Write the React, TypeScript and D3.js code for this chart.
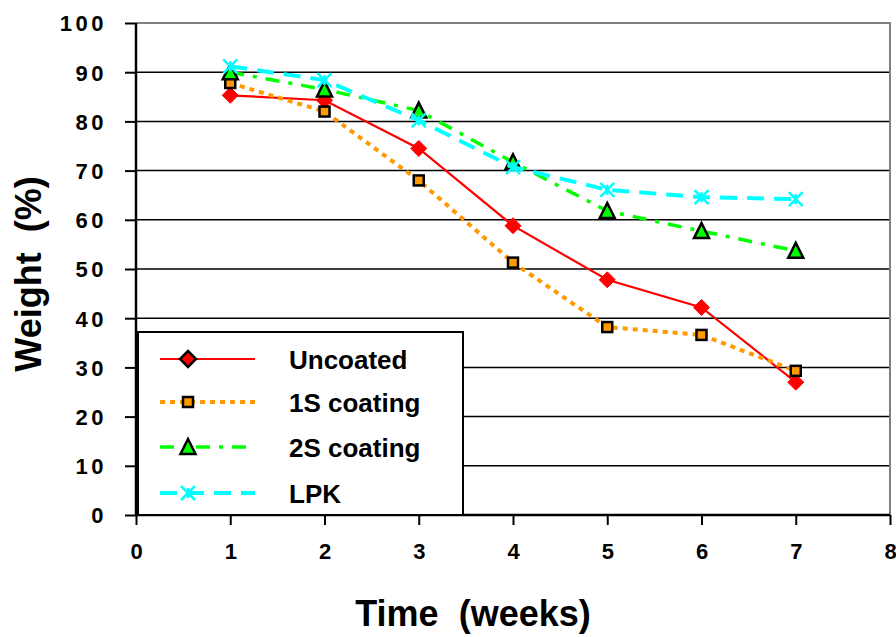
import * as d3 from "d3";
import { useEffect, useRef } from "react";

const weeks = [1, 2, 3, 4, 5, 6, 7];
const uncoated = [85.3, 84.3, 74.5, 58.8, 47.8, 42.2, 27.0];
const coating1S = [87.8, 82.0, 68.0, 51.3, 38.2, 36.6, 29.3];
const coating2S = [90.0, 86.5, 82.2, 71.7, 61.8, 57.7, 53.7];
const lpk = [91.2, 88.4, 80.2, 70.7, 66.1, 64.6, 64.2];
const seriesNames = ["Uncoated", "1S coating", "2S coating", "LPK"];
const xTicks = [0, 1, 2, 3, 4, 5, 6, 7, 8];
const yTicks = [0, 10, 20, 30, 40, 50, 60, 70, 80, 90, 100];

const width = 896,
  height = 637,
  marginTop = 23,
  marginRight = 6,
  marginBottom = 122,
  marginLeft = 136;

const font = "'Liberation Sans', Arial, sans-serif";

type Marker = "diamond" | "square" | "triangle" | "cross";
const styles: {
  color: string;
  width: number;
  dash: string | null;
  marker: Marker;
}[] = [
  { color: "#ff0000", width: 2.2, dash: null, marker: "diamond" },
  { color: "#ff9900", width: 4, dash: "5,5", marker: "square" },
  { color: "#00ff00", width: 3.5, dash: "14,9,4,9", marker: "triangle" },
  { color: "#00ffff", width: 4, dash: "17,10", marker: "cross" },
];

function drawMarker(
  g: d3.Selection<SVGGElement, unknown, null, undefined>,
  kind: Marker,
  cx: number,
  cy: number,
  color: string,
  legend = false
) {
  if (kind === "diamond") {
    g.append("path")
      .attr("d", `M${cx},${cy - 8}L${cx + 8},${cy}L${cx},${cy + 8}L${cx - 8},${cy}Z`)
      .attr("fill", color)
      .attr("stroke", legend ? "#000" : color)
      .attr("stroke-width", legend ? 2.5 : 1);
  } else if (kind === "square") {
    g.append("rect")
      .attr("x", cx - 5)
      .attr("y", cy - 5)
      .attr("width", 10)
      .attr("height", 10)
      .attr("fill", color)
      .attr("stroke", "#000")
      .attr("stroke-width", 2.5);
  } else if (kind === "triangle") {
    g.append("path")
      .attr("d", `M${cx},${cy - 8}L${cx + 7.5},${cy + 7}L${cx - 7.5},${cy + 7}Z`)
      .attr("fill", color)
      .attr("stroke", "#000")
      .attr("stroke-width", 2.5);
  } else {
    g.append("path")
      .attr(
        "d",
        `M${cx - 7},${cy - 7}L${cx + 7},${cy + 7}M${cx - 7},${cy + 7}L${cx + 7},${cy - 7}M${cx},${cy - 5}L${cx},${cy + 5}`
      )
      .attr("fill", "none")
      .attr("stroke", color)
      .attr("stroke-width", 2.5);
  }
}

export default function App() {
  const ref = useRef<SVGSVGElement | null>(null);

  useEffect(() => {
    if (!ref.current) return;
    const svg = d3.select(ref.current);
    svg.selectAll("*").remove();

    const x = d3.scaleLinear([0, 8], [marginLeft, width - marginRight]);
    const y = d3.scaleLinear([0, 100], [height - marginBottom, marginTop]);

    // gridlines
    svg
      .append("g")
      .selectAll("line")
      .data(yTicks.filter((t) => t > 0 && t < 100))
      .join("line")
      .attr("x1", x(0))
      .attr("x2", x(8))
      .attr("y1", (d) => y(d))
      .attr("y2", (d) => y(d))
      .attr("stroke", "#000")
      .attr("stroke-width", 1.5);

    // plot border top/right in gray
    svg
      .append("path")
      .attr("d", `M${x(0)},${y(100)}H${x(8)}V${y(0)}`)
      .attr("fill", "none")
      .attr("stroke", "#808080")
      .attr("stroke-width", 2);

    // y axis
    svg
      .append("g")
      .attr("transform", `translate(${x(0)},0)`)
      .call(d3.axisLeft(y).tickValues(yTicks).tickSize(11).tickPadding(12).tickFormat(d3.format("d")))
      .call((g) => g.selectAll("line").attr("stroke-width", 2))
      .call((g) => g.select(".domain").attr("stroke-width", 2.5).attr("d", `M0,${y(0)}V${y(100)}`))
      .call((g) =>
        g
          .selectAll("text")
          .attr("font-family", font)
          .attr("font-weight", "bold")
          .attr("font-size", 22)
          .attr("letter-spacing", 3.5)
          .attr("x", -29)
          .attr("dy", "0.36em")
          .attr("fill", "#000")
      );

    // x axis
    svg
      .append("g")
      .attr("transform", `translate(0,${y(0)})`)
      .call(d3.axisBottom(x).tickValues(xTicks).tickSize(10).tickPadding(18).tickFormat(d3.format("d")))
      .call((g) => g.selectAll("line").attr("stroke-width", 2))
      .call((g) => g.select(".domain").attr("stroke-width", 2.5).attr("d", `M${x(0)},0H${x(8)}`))
      .call((g) =>
        g
          .selectAll("text")
          .attr("font-family", font)
          .attr("font-weight", "bold")
          .attr("font-size", 22)
          .attr("fill", "#000")
      );

    // series
    const all = [uncoated, coating1S, coating2S, lpk];
    const line = d3
      .line<number>()
      .x((_, i) => x(weeks[i]))
      .y((d) => y(d));

    all.forEach((vals, si) => {
      const s = styles[si];
      const g = svg.append("g");
      g.append("path")
        .attr("d", line(vals))
        .attr("fill", "none")
        .attr("stroke", s.color)
        .attr("stroke-width", s.width)
        .attr("stroke-dasharray", s.dash);
      vals.forEach((v, i) => drawMarker(g, s.marker, x(weeks[i]), y(v), s.color));
    });

    // legend
    const lg = svg.append("g");
    lg.append("rect")
      .attr("x", 138)
      .attr("y", 332)
      .attr("width", 325)
      .attr("height", y(0) - 332)
      .attr("fill", "#fff")
      .attr("stroke", "#000")
      .attr("stroke-width", 2);
    const rowY = [359, 402, 447, 493];
    seriesNames.forEach((name, i) => {
      const s = styles[i];
      lg.append("line")
        .attr("x1", 160)
        .attr("x2", 255)
        .attr("y1", rowY[i])
        .attr("y2", rowY[i])
        .attr("stroke", s.color)
        .attr("stroke-width", s.width)
        .attr("stroke-dasharray", s.dash);
      drawMarker(lg, s.marker, 188, rowY[i], s.color, true);
      lg.append("text")
        .attr("x", 289)
        .attr("y", rowY[i] + 10)
        .attr("font-family", font)
        .attr("font-weight", "bold")
        .attr("font-size", 26)
        .text(name);
    });

    // axis titles
    svg
      .append("text")
      .attr("x", 473)
      .attr("y", 626)
      .attr("text-anchor", "middle")
      .attr("font-family", font)
      .attr("font-weight", "bold")
      .attr("font-size", 36)
      .attr("xml:space", "preserve")
      .text("Time  (weeks)");
    svg
      .append("text")
      .attr("transform", `translate(41,274) rotate(-90)`)
      .attr("text-anchor", "middle")
      .attr("font-family", font)
      .attr("font-weight", "bold")
      .attr("font-size", 36)
      .attr("xml:space", "preserve")
      .text("Weight  (%)");
  }, []);

  return (
    <svg
      ref={ref}
      width={width}
      height={height}
      style={{ position: "absolute", left: 0, top: 0, background: "#fff" }}
    />
  );
}
